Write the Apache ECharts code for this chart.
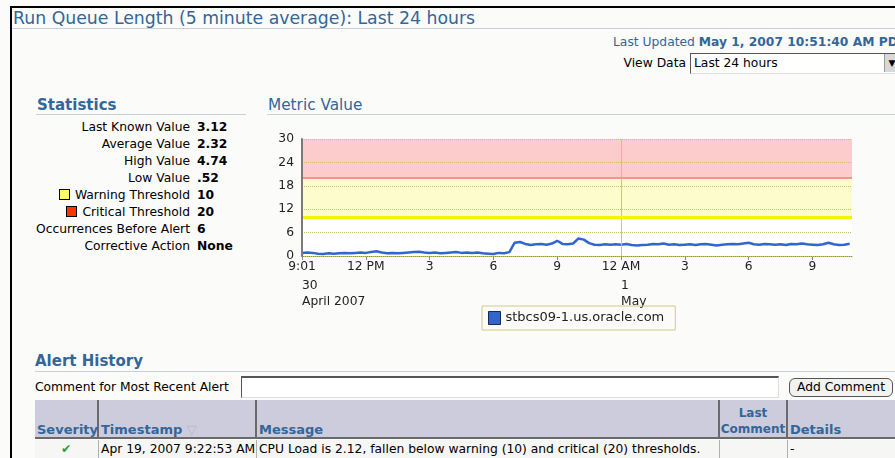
<!DOCTYPE html>
<html><head><meta charset="utf-8">
<script src="https://cdn.jsdelivr.net/npm/echarts@6/dist/echarts.min.js"></script>
<style>
html,body{margin:0;padding:0;width:895px;height:458px;overflow:hidden;background:#fbfbf9;
  font-family:"DejaVu Sans",Tahoma,sans-serif;font-size:12.3px;color:#000;}
.a{position:absolute;white-space:nowrap;}
.blue{color:#336699;}
.hl{position:absolute;height:1px;background:#c8d0dc;}
.stat{position:absolute;left:0;width:190px;text-align:right;white-space:nowrap;line-height:17px;}
.val{position:absolute;left:197px;font-weight:bold;white-space:nowrap;line-height:17px;}
.sq{display:inline-block;width:9px;height:9px;border:1px solid #000;margin-right:5px;vertical-align:-1px;}
.th{position:absolute;top:400px;height:37px;background:#ccccdc;border-right:2px solid #6a6a6a;}
.thb{position:absolute;bottom:0;left:2px;font-weight:bold;color:#336699;font-size:13px;white-space:nowrap;}
.td{position:absolute;top:440px;height:18px;background:#f6f6f4;border-right:1px solid #b0b0b0;}
.tdt{position:absolute;top:2px;left:2px;white-space:nowrap;}
#chart{position:absolute;left:0;top:0;width:895px;height:458px;}
</style></head>
<body>
<div class="a" style="left:10px;top:6px;width:900px;height:2px;background:#000"></div>
<div class="a" style="left:10px;top:6px;width:2px;height:460px;background:#000"></div>

<div class="a blue" style="left:13px;top:8px;font-size:17.3px;">Run Queue Length (5 minute average): Last 24 hours</div>
<div class="hl" style="left:12px;top:28px;width:883px;"></div>

<div class="a blue" style="left:613px;top:35px;">Last Updated <b>May 1, 2007 10:51:40 AM PDT</b></div>
<div class="a" style="left:586px;top:56px;width:100px;text-align:right;">View Data</div>
<div class="a" style="left:690px;top:53px;width:210px;height:19px;background:#fff;border-top:1px solid #555;border-left:1px solid #555;border-bottom:1px solid #ddd;"></div>
<div class="a" style="left:694px;top:56px;">Last 24 hours</div>
<div class="a" style="left:884px;top:54px;width:14px;height:18px;background:#d8d8d8;border-left:1px solid #999;font-size:9px;line-height:18px;text-align:center;">&#9660;</div>

<div class="a blue" style="left:37px;top:96px;font-size:15px;font-weight:bold;">Statistics</div>
<div class="hl" style="left:36px;top:114px;width:210px;"></div>
<div id="stats" class="a" style="left:0;top:119px;width:260px;height:140px;">
  <div class="stat" style="top:0px">Last Known Value</div><div class="val" style="top:0px">3.12</div>
  <div class="stat" style="top:17px">Average Value</div><div class="val" style="top:17px">2.32</div>
  <div class="stat" style="top:34px">High Value</div><div class="val" style="top:34px">4.74</div>
  <div class="stat" style="top:51px">Low Value</div><div class="val" style="top:51px">.52</div>
  <div class="stat" style="top:68px"><span class="sq" style="background:#ffff66"></span>Warning Threshold</div><div class="val" style="top:68px">10</div>
  <div class="stat" style="top:85px"><span class="sq" style="background:#ff3300"></span>Critical Threshold</div><div class="val" style="top:85px">20</div>
  <div class="stat" style="top:102px">Occurrences Before Alert</div><div class="val" style="top:102px">6</div>
  <div class="stat" style="top:119px">Corrective Action</div><div class="val" style="top:119px">None</div>
</div>

<div class="a blue" style="left:268px;top:96px;font-size:15.3px;">Metric Value</div>
<div class="hl" style="left:267px;top:114px;width:628px;"></div>

<div class="a blue" style="left:35px;top:352px;font-size:15px;font-weight:bold;">Alert History</div>
<div class="hl" style="left:35px;top:371px;width:860px;"></div>
<div class="a" style="left:35px;top:380px;">Comment for Most Recent Alert</div>
<div class="a" style="left:241px;top:376px;width:536px;height:19px;background:#fff;border-top:2px solid #555;border-left:1px solid #555;border-bottom:1px solid #ddd;border-right:1px solid #ddd;"></div>
<div class="a" style="left:789px;top:378px;width:102px;height:17px;background:#f2f2f0;border:1px solid #555;border-radius:6px;text-align:center;line-height:17px;">Add Comment</div>

<div class="th" style="left:35px;width:62px;"><div class="thb">Severity</div></div>
<div class="th" style="left:99px;width:156px;"><div class="thb">Timestamp <span style="color:#b8b8c8;font-weight:normal">&#9661;</span></div></div>
<div class="th" style="left:257px;width:461px;"><div class="thb">Message</div></div>
<div class="th" style="left:720px;width:66px;"><div class="thb" style="left:0;width:66px;text-align:center;font-size:12px;line-height:16px;">Last<br>Comment</div></div>
<div class="th" style="left:788px;width:120px;"><div class="thb">Details</div></div>
<div class="a" style="left:35px;top:437px;width:870px;height:2px;background:#6a6a6a;"></div>
<div class="td" style="left:35px;width:63px;"><div class="tdt" style="left:26px;color:#2e9a2e;font-weight:bold;">&#10004;</div></div>
<div class="td" style="left:99px;width:157px;"><div class="tdt">Apr 19, 2007 9:22:53 AM</div></div>
<div class="td" style="left:257px;width:462px;"><div class="tdt">CPU Load is 2.12, fallen below warning (10) and critical (20) thresholds.</div></div>
<div class="td" style="left:720px;width:67px;"></div>
<div class="td" style="left:788px;width:120px;"><div class="tdt">-</div></div>

<div id="chart"></div>
<script>
// ---- data ----
const SERIES_NAME = 'stbcs09-1.us.oracle.com';
const START_HOUR = 9.0;      // 9:00 AM, April 30
const STEP_HOURS = 0.25;     // one sample every 15 minutes
const VALUES = [
  0.8,0.9,0.8,0.6,0.5,0.7,0.6,0.7,0.8,0.7,0.8,0.9,
  0.8,1.0,1.2,0.9,0.7,0.8,0.7,0.8,0.9,1.0,1.1,0.9,
  0.8,0.9,0.7,0.8,0.9,1.0,0.8,0.9,0.8,0.9,0.7,0.6,
  0.5,0.8,0.7,1.0,3.4,3.6,3.1,2.8,3.0,3.1,2.9,3.2,
  3.9,3.1,3.0,3.2,4.5,4.2,3.3,2.9,2.8,3.0,2.9,3.0,
  2.9,3.1,2.8,2.7,2.8,2.9,3.1,3.0,3.2,2.9,3.0,2.8,
  2.9,3.0,2.8,3.0,3.1,2.9,2.7,2.9,3.0,3.1,3.0,3.2,
  3.4,3.0,2.9,3.1,3.0,2.9,3.0,2.8,3.1,3.0,3.2,3.0,
  2.9,2.8,3.0,3.4,3.0,2.8,2.9,3.12
];
const X_MIN = 9, X_MAX = 34.86, X_INTERVAL = 3;
const TICK_HOURS  = [9, 12, 15, 18, 21, 24, 27, 30, 33];
const TIME_LABELS = ['9:01', '12 PM', '3', '6', '9', '12 AM', '3', '6', '9'];
const DATE_HOURS  = [9, 24];
const DATE_LABELS = ['30\nApril 2007', '1\nMay'];
const Y_MIN = 0, Y_MAX = 30, Y_INTERVAL = 6;
const WARNING = 10, CRITICAL = 20, MIDNIGHT = 24;

const FONT = '"DejaVu Sans", Tahoma, sans-serif';
const points = VALUES.map((v, i) => [START_HOUR + i * STEP_HOURS, v]);
const timeLabel = v => { const k = TICK_HOURS.indexOf(Math.round(v * 100) / 100); return k >= 0 ? TIME_LABELS[k] : ''; };
const dateLabel = v => { const k = DATE_HOURS.indexOf(Math.round(v * 100) / 100); return k >= 0 ? DATE_LABELS[k] : ''; };

const chart = echarts.init(document.getElementById('chart'), null, {renderer: 'canvas'});
chart.setOption({
  animation: false,
  textStyle: {fontFamily: FONT},
  grid: {left: 302, top: 139, width: 550, height: 117, show: true, backgroundColor: '#ffffff', borderWidth: 0},
  legend: {
    data: [SERIES_NAME], left: 482, top: 306, icon: 'rect', itemWidth: 12, itemHeight: 13,
    padding: [5, 11, 5, 6], borderColor: '#cccc88', borderWidth: 1, itemGap: 6,
    itemStyle: {color: '#3366cc', borderColor: '#1a2a55', borderWidth: 1},
    textStyle: {fontSize: 13, color: '#222', fontFamily: FONT}
  },
  xAxis: [{
    type: 'value', min: X_MIN, max: X_MAX, interval: X_INTERVAL,
    axisLine: {lineStyle: {color: '#8a8a8a', width: 1}},
    axisTick: {length: 4, lineStyle: {color: '#8a8a8a'}},
    splitLine: {show: false},
    axisLabel: {formatter: timeLabel, color: '#222', fontSize: 12.3, margin: 5, showMaxLabel: false, fontFamily: FONT}
  }, {
    type: 'value', min: X_MIN, max: X_MAX, interval: X_INTERVAL, position: 'bottom',
    axisLine: {show: false}, axisTick: {show: false}, splitLine: {show: false},
    axisLabel: {formatter: dateLabel, align: 'left', verticalAlign: 'top', margin: 22, lineHeight: 16,
      color: '#222', fontSize: 12.3, showMaxLabel: false, fontFamily: FONT}
  }],
  yAxis: {
    type: 'value', min: Y_MIN, max: Y_MAX, interval: Y_INTERVAL, z: 5,
    axisLine: {show: true, lineStyle: {color: '#7a7a7a', width: 2}},
    axisTick: {show: false},
    splitLine: {show: true, lineStyle: {type: 'dotted', color: '#c4c46a', width: 1}},
    axisLabel: {color: '#222', fontSize: 12.3, margin: 8, fontFamily: FONT}
  },
  series: [{
    type: 'line', name: SERIES_NAME, data: points, showSymbol: false, symbol: 'none',
    lineStyle: {color: '#3366cc', width: 2.5}, itemStyle: {color: '#3366cc'},
    markArea: {silent: true, data: [
      [{yAxis: WARNING, itemStyle: {color: '#fcfccc'}}, {yAxis: CRITICAL}],
      [{yAxis: CRITICAL, itemStyle: {color: '#fccccc'}}, {yAxis: Y_MAX}]
    ]},
    markLine: {silent: true, symbol: 'none', label: {show: false}, data: [
      {xAxis: MIDNIGHT, lineStyle: {color: '#c8c87a', width: 1, type: 'solid'}},
      {yAxis: WARNING, lineStyle: {color: '#f4f400', width: 3, type: 'solid'}},
      {yAxis: CRITICAL, lineStyle: {color: '#f29595', width: 2, type: 'solid'}}
    ]}
  }]
});
</script>
</body></html>
